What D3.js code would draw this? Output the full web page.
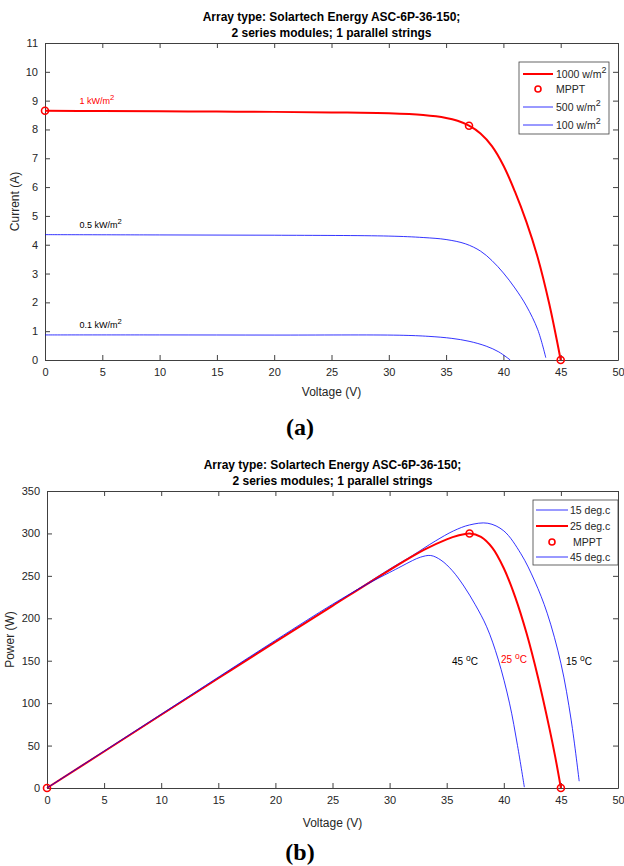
<!DOCTYPE html>
<html>
<head>
<meta charset="utf-8">
<script src="https://cdn.jsdelivr.net/npm/d3@7"></script>
<style>
  body { margin: 0; background: #fff; }
  svg { display: block; font-family: "Liberation Sans", Arial, sans-serif; }
</style>
</head>
<body>
<script>
const width = 624, height = 866;

// ---- data (a): I-V curves at three irradiance levels ----
const iv1000V = [0, 5, 10, 15, 20, 25, 30, 33, 35, 36, 37, 38, 39, 40, 41, 42, 43, 44, 45];
const iv1000I = [8.65, 8.64, 8.63, 8.62, 8.61, 8.59, 8.56, 8.5, 8.4, 8.3, 8.13, 7.86, 7.42, 6.75, 5.85, 4.8, 3.55, 1.95, 0];
const iv500V = [0, 10, 20, 30, 33, 35, 36.7, 38, 39, 40, 41, 42, 43, 43.7];
const iv500I = [4.35, 4.34, 4.33, 4.3, 4.25, 4.18, 4.03, 3.78, 3.45, 3.02, 2.5, 1.88, 1.05, 0.08];
const iv100V = [0, 10, 20, 30.9, 33.5, 35.5, 37, 38.5, 39.6, 40.6];
const iv100I = [0.87, 0.87, 0.865, 0.86, 0.82, 0.75, 0.65, 0.48, 0.28, 0];
const mpptIVV = [0, 37, 45];
const mpptIVI = [8.65, 8.13, 0];

// ---- data (b): P-V curves at three temperatures ----
const pv15V = [0, 10, 20, 25, 30, 32, 34, 35.6, 37, 38.6, 40, 41.5, 42.7, 43.8, 45, 45.9, 46.6];
const pv15P = [0, 86, 172.5, 215, 258, 274, 291, 303, 310, 312, 303, 276, 244, 206, 147, 80, 8];
const pv25V = [0, 5, 10, 15, 20, 25, 30, 33, 35, 36, 37, 38, 39, 40, 41, 42, 43, 44, 44.5, 45];
const pv25P = [0, 43, 86.3, 129.3, 172.2, 214.7, 256.8, 280.5, 293, 297.5, 300, 296, 283, 259, 225, 182, 130, 70, 37, 0];
const pv45V = [0, 10, 20, 25, 28, 30, 31, 32, 32.7, 33.6, 34.5, 35.5, 36.5, 37.5, 38.5, 39.5, 40.5, 41.2, 41.8];
const pv45P = [0, 87, 174, 216.5, 240, 254, 261, 268, 272, 274, 268.5, 256, 238, 216, 190, 152, 100, 50, 1];
const mpptPVV = [0, 37, 45];
const mpptPVP = [0, 300, 0];

const xTicks = [0, 5, 10, 15, 20, 25, 30, 35, 40, 45, 50];
const yTicksA = [0, 1, 2, 3, 4, 5, 6, 7, 8, 9, 10, 11];
const yTicksB = [0, 50, 100, 150, 200, 250, 300, 350];

const titleLines = ["Array type: Solartech Energy ASC-6P-36-150;", "2 series modules; 1 parallel strings"];

const axisColor = "#404040";
const textColor = "#262626";

const svg = d3.select("body").append("svg")
    .attr("width", width)
    .attr("height", height);

function zip(xs, ys) { return xs.map((x, i) => [x, ys[i]]); }

// text with a superscript part
function supText(g, x, y, base, sup, rest, size, color, anchor) {
  const t = g.append("text")
      .attr("x", x).attr("y", y)
      .attr("font-size", size)
      .attr("fill", color)
      .attr("text-anchor", anchor || "start");
  t.append("tspan").text(base);
  t.append("tspan").attr("dy", -size * 0.45).attr("font-size", size * 0.85).text(sup);
  if (rest) t.append("tspan").attr("dy", size * 0.45).text(rest);
  return t;
}

function drawFrame(x, y, yTicks, titleY, xLabelY, yLabel, yLabelX, panelLabel, panelY) {
  const g = svg.append("g");
  const [x0, x1] = x.range();
  const [y0, y1] = y.range();

  g.append("g").attr("transform", `translate(0,${y0})`)
    .call(d3.axisBottom(x).tickValues(xTicks).tickSizeInner(-5).tickSizeOuter(0).tickPadding(8));
  g.append("g").attr("transform", `translate(0,${y1})`)
    .call(d3.axisTop(x).tickValues(xTicks).tickSizeInner(-5).tickSizeOuter(0).tickFormat(""));
  g.append("g").attr("transform", `translate(${x0},0)`)
    .call(d3.axisLeft(y).tickValues(yTicks).tickSizeInner(-5).tickSizeOuter(0).tickPadding(7));
  g.append("g").attr("transform", `translate(${x1},0)`)
    .call(d3.axisRight(y).tickValues(yTicks).tickSizeInner(-5).tickSizeOuter(0).tickFormat(""));

  g.selectAll(".domain, .tick line").attr("stroke", axisColor);
  g.selectAll(".tick text")
    .attr("fill", textColor)
    .attr("font-size", 11)
    .attr("font-family", "Liberation Sans, Arial, sans-serif");

  const cx = (x0 + x1) / 2;
  titleLines.forEach((s, i) => {
    g.append("text")
      .attr("x", cx).attr("y", titleY + i * 16)
      .attr("text-anchor", "middle")
      .attr("font-size", 12)
      .attr("font-weight", "bold")
      .attr("fill", "#000")
      .text(s);
  });

  g.append("text")
    .attr("x", cx).attr("y", xLabelY)
    .attr("text-anchor", "middle")
    .attr("font-size", 12)
    .attr("fill", textColor)
    .text("Voltage (V)");

  g.append("text")
    .attr("transform", `translate(${yLabelX},${(y0 + y1) / 2}) rotate(-90)`)
    .attr("text-anchor", "middle")
    .attr("font-size", 12)
    .attr("fill", textColor)
    .text(yLabel);

  svg.append("text")
    .attr("x", 300).attr("y", panelY)
    .attr("text-anchor", "middle")
    .attr("font-family", "Liberation Serif, Times New Roman, serif")
    .attr("font-weight", "bold")
    .attr("font-size", 24)
    .attr("fill", "#000")
    .text(panelLabel);
  return g;
}

// ================= panel (a) =================
const xA = d3.scaleLinear().domain([0, 50]).range([45, 618]);
const yA = d3.scaleLinear().domain([0, 11]).range([360, 43]);

drawFrame(xA, yA, yTicksA, 21, 396, "Current (A)", 19, "(a)", 435);

const lineA = d3.line().x(d => xA(d[0])).y(d => yA(d[1])).curve(d3.curveCatmullRom.alpha(0.5));

const gA = svg.append("g");
gA.append("path").datum(zip(iv1000V, iv1000I))
  .attr("d", lineA).attr("fill", "none").attr("stroke", "#ff0000").attr("stroke-width", 2);
gA.append("path").datum(zip(iv500V, iv500I))
  .attr("d", lineA).attr("fill", "none").attr("stroke", "#0000ff").attr("stroke-width", 0.8);
gA.append("path").datum(zip(iv100V, iv100I))
  .attr("d", lineA).attr("fill", "none").attr("stroke", "#0000ff").attr("stroke-width", 0.8);
gA.selectAll("circle.mppt").data(zip(mpptIVV, mpptIVI)).join("circle")
  .attr("class", "mppt")
  .attr("cx", d => xA(d[0])).attr("cy", d => yA(d[1])).attr("r", 3.5)
  .attr("fill", "none").attr("stroke", "#ff0000").attr("stroke-width", 1.6);

supText(gA, xA(3), yA(8.65) - 7, "1 kW/m", "2", null, 9, "#ff0000");
supText(gA, xA(3), yA(4.35) - 7, "0.5 kW/m", "2", null, 9, "#000");
supText(gA, xA(3), yA(0.87) - 7, "0.1 kW/m", "2", null, 9, "#000");

// legend (a)
const legA = svg.append("g").attr("transform", "translate(519,62)");
legA.append("rect").attr("width", 90).attr("height", 72)
  .attr("fill", "#fff").attr("stroke", axisColor).attr("stroke-width", 0.8);
const legItemsA = [
  {label: "1000 w/m", type: "line", color: "#ff0000", w: 2},
  {label: "MPPT", type: "marker"},
  {label: "500 w/m", type: "line", color: "#0000ff", w: 0.8},
  {label: "100 w/m", type: "line", color: "#0000ff", w: 0.8}
];
const legYA = [12, 27, 45, 63];
legItemsA.forEach((d, i) => {
  const yy = legYA[i];
  if (d.type === "line") {
    legA.append("line").attr("x1", 4).attr("x2", 34).attr("y1", yy).attr("y2", yy)
      .attr("stroke", d.color).attr("stroke-width", d.w);
    supText(legA, 37, yy + 4, d.label, "2", null, 10.5, textColor);
  } else {
    legA.append("circle").attr("cx", 19).attr("cy", yy).attr("r", 3)
      .attr("fill", "none").attr("stroke", "#ff0000").attr("stroke-width", 1.6);
    legA.append("text").attr("x", 37).attr("y", yy + 4).attr("font-size", 10.5)
      .attr("fill", textColor).text(d.label);
  }
});

// ================= panel (b) =================
const xB = d3.scaleLinear().domain([0, 50]).range([47, 618]);
const yB = d3.scaleLinear().domain([0, 350]).range([788, 491]);

drawFrame(xB, yB, yTicksB, 469, 827, "Power (W)", 14, "(b)", 860);

const lineB = d3.line().x(d => xB(d[0])).y(d => yB(d[1])).curve(d3.curveCatmullRom.alpha(0.5));

const gB = svg.append("g");
gB.append("path").datum(zip(pv15V, pv15P))
  .attr("d", lineB).attr("fill", "none").attr("stroke", "#0000ff").attr("stroke-width", 0.8);
gB.append("path").datum(zip(pv25V, pv25P))
  .attr("d", lineB).attr("fill", "none").attr("stroke", "#ff0000").attr("stroke-width", 2);
gB.selectAll("circle.mppt").data(zip(mpptPVV, mpptPVP)).join("circle")
  .attr("class", "mppt")
  .attr("cx", d => xB(d[0])).attr("cy", d => yB(d[1])).attr("r", 3.5)
  .attr("fill", "none").attr("stroke", "#ff0000").attr("stroke-width", 1.6);
gB.append("path").datum(zip(pv45V, pv45P))
  .attr("d", lineB).attr("fill", "none").attr("stroke", "#0000ff").attr("stroke-width", 0.8);

supText(gB, 452, 665, "45 ", "o", "C", 10, "#000");
supText(gB, 501, 663, "25 ", "o", "C", 10, "#ff0000");
supText(gB, 566, 665, "15 ", "o", "C", 10, "#000");

// legend (b)
const legB = svg.append("g").attr("transform", "translate(533,500)");
legB.append("rect").attr("width", 85).attr("height", 65)
  .attr("fill", "#fff").attr("stroke", axisColor).attr("stroke-width", 0.8);
const legItemsB = [
  {label: "15 deg.c", type: "line", color: "#0000ff", w: 0.8},
  {label: "25 deg.c", type: "line", color: "#ff0000", w: 2},
  {label: "MPPT", type: "marker"},
  {label: "45 deg.c", type: "line", color: "#0000ff", w: 0.8}
];
const legYB = [10, 26, 42, 57];
legItemsB.forEach((d, i) => {
  const yy = legYB[i];
  if (d.type === "line") {
    legB.append("line").attr("x1", 3).attr("x2", 35).attr("y1", yy).attr("y2", yy)
      .attr("stroke", d.color).attr("stroke-width", d.w);
  } else {
    legB.append("circle").attr("cx", 19).attr("cy", yy).attr("r", 3)
      .attr("fill", "none").attr("stroke", "#ff0000").attr("stroke-width", 1.6);
  }
  legB.append("text").attr("x", d.type === "marker" ? 40 : 37).attr("y", yy + 4).attr("font-size", 10.5)
    .attr("fill", textColor).text(d.label);
});
</script>
</body>
</html>
